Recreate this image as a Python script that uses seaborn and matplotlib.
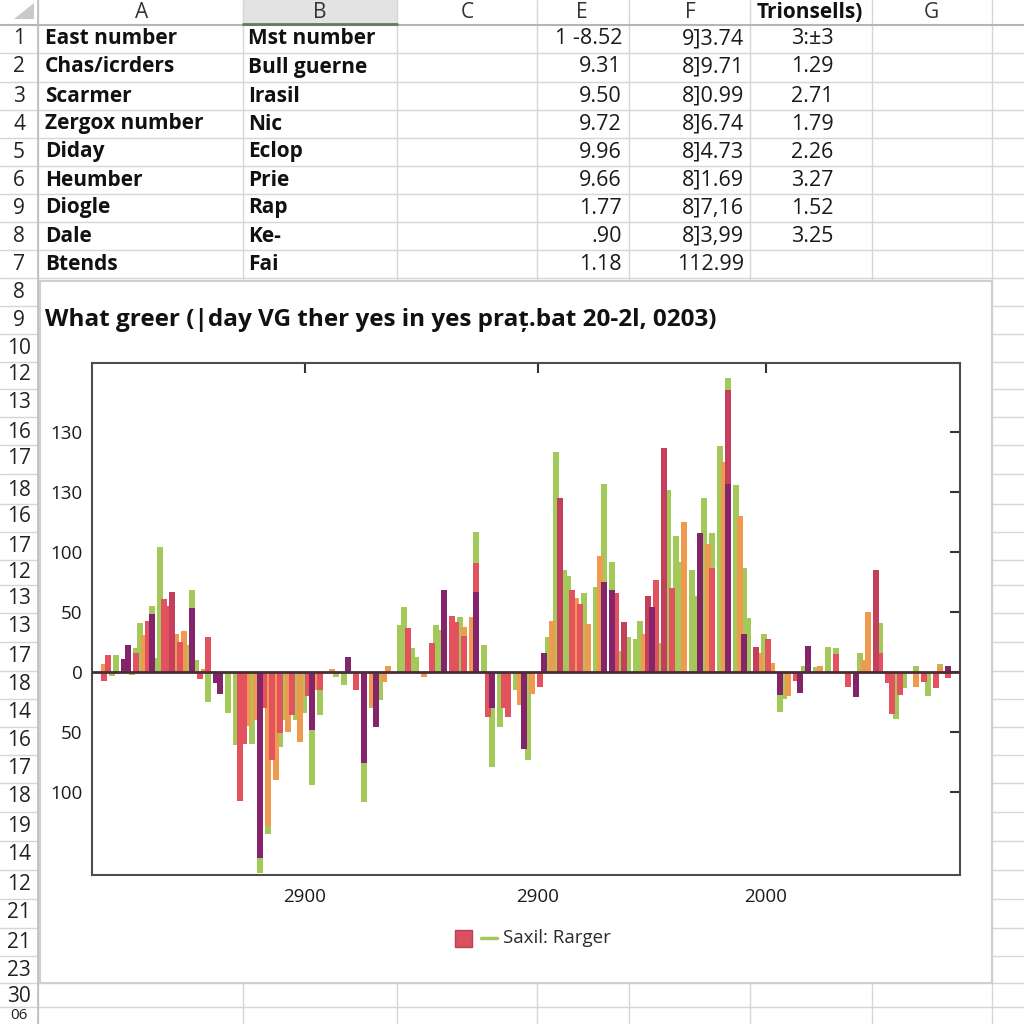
import numpy as np
import pandas as pd
import matplotlib
matplotlib.use("Agg")
import matplotlib.pyplot as plt
import seaborn as sns
from matplotlib.patches import Rectangle, Polygon

sns.set_theme(style="white")
plt.rcParams['font.family'] = ['Open Sans', 'DejaVu Sans']

# ---------------- spreadsheet content ----------------
col_headers = ["A", "B", "C", "E", "F", "Trionsells)", "G"]
col_a = ["East number", "Chas/icrders", "Scarmer", "Zergox number", "Diday",
         "Heumber", "Diogle", "Dale", "Btends"]
col_b = ["Mst number", "Bull guerne", "Irasil", "Nic", "Eclop", "Prie",
         "Rap", "Ke-", "Fai"]
col_e = ["1 -8.52", "9.31", "9.50", "9.72", "9.96", "9.66", "1.77", ".90", "1.18"]
col_f = ["9]3.74", "8]9.71", "8]0.99", "8]6.74", "8]4.73", "8]1.69", "8]7,16",
         "8]3,99", "112.99"]
col_t = ["3:±3", "1.29", "2.71", "1.79", "2.26", "3.27", "1.52", "3.25", ""]
row_nums_top = ["1", "2", "3", "4", "5", "6", "9", "8", "7"]
row_nums_low = ["8", "9", "10", "12", "13", "16", "17", "18", "16", "17", "12",
                "13", "13", "17", "18", "14", "16", "17", "18", "19", "14", "12",
                "21", "21", "23", "30", "06"]

chart_title = "What greer (|day VG ther yes in yes praț.bat 20-2l, 0203)"
legend_label = "Saxil: Rarger"

# ---------------- chart data ----------------
green_x = [5, 6, 10, 11, 12, 15, 16, 17, 22, 24, 25, 26, 29, 34, 36, 40, 42, 44, 47, 48,
           51, 53, 55, 57, 61, 63, 68, 70, 72, 77, 78, 80, 81, 86, 87, 92, 96, 98, 100, 102,
           106, 109, 114, 116, 118, 119, 123, 126, 128, 130, 132, 134, 136, 137, 142,
           144, 146, 147, 150, 151, 153, 155, 157, 159, 161, 163, 164, 168, 172, 173,
           178, 181, 184, 186, 192, 197, 201, 203, 206, 209, 212]
green_y = [-3, 14, -2, 20, 41, 55, 12, 104, 15, 23, 68, 10, -25, -34, -61, -60, -167, -135,
           -62, -40, -40, -34, -94, -36, -4, -11, -108, -30, -23, 39, 54, 20, 13, 39, 35, 46,
           117, 23, -79, -46, -15, -73, 29, 183, 85, 80, 66, 71, 157, 92, 18, 29, 28, 43,
           24, 152, 113, 92, 85, 63, 145, 116, 188, 245, 156, 87, 45, 32, -33, -22, 5, 4,
           21, 20, 16, 41, -39, -13, 5, -20, 7]

orange_x = [3, 13, 21, 23, 28, 39, 41, 44, 46, 49, 52, 56, 60, 70, 73, 74, 79, 83, 93, 95,
            107, 110, 115, 121, 124, 127, 138, 148, 154, 158, 162, 167, 170, 174, 182, 193,
            194, 206, 212]
orange_y = [7, 31, 32, 34, 3, -45, -40, -128, -90, -50, -58, -15, 3, -28, -8, 5, 15, -4,
            38, 46, -27, -18, 43, 62, 40, 97, 32, 125, 107, 175, 130, 16, 8, -20, 5, 10, 50,
            -12, 5]

red_x = [3, 4, 11, 14, 18, 19, 22, 27, 29, 37, 38, 43, 45, 47, 50, 54, 57, 66, 79, 85, 90,
         91, 93, 96, 99, 103, 104, 112, 120, 122, 131, 141, 145, 155, 169, 176, 186, 189,
         197, 199, 200, 202, 208, 211, 214]
red_y = [-7, 14, 16, 43, 61, 55, 25, -6, 29, -107, -60, -30, -73, -51, -36, -20, -15, -15,
         37, 24, 47, 42, 30, 91, -37, -30, -37, -12, 68, 57, 66, 77, 70, 87, 28, -7, 15,
         -12, 16, -9, -35, -19, -8, -13, -5]

crimson_x = [20, 117, 133, 139, 143, 159, 166, 196]
crimson_y = [67, 145, 42, 63, 187, 235, 21, 85]

purple_x = [8, 9, 15, 25, 31, 32, 42, 55, 64, 68, 71, 88, 96, 100, 108, 113, 128, 130,
            140, 152, 159, 163, 172, 177, 179, 191, 214]
purple_y = [11, 23, 48, 53, -9, -18, -155, -48, 13, -76, -46, 68, 67, -30, -64, 16, 75,
            68, 54, 116, 157, 32, -19, -17, 22, -21, 5]

series_names = ["green", "orange", "red", "crimson", "purple"]
series_colors = ["#a3c95b", "#ef9a4e", "#e5525f", "#c43f5c", "#84256b"]

x_ticks = [53.25, 111.5, 168.5]
x_tick_labels = ["2900", "2900", "2000"]
y_ticks = [200, 150, 100, 50, 0, -50, -100]
y_tick_labels = ["130", "130", "100", "50", "0", "50", "100"]

# ---------------- figure ----------------
fig = plt.figure(figsize=(10.24, 10.24), dpi=100)
fig.patch.set_facecolor("white")

bg = fig.add_axes([0, 0, 1, 1])
bg.set_xlim(0, 1024)
bg.set_ylim(1024, 0)
bg.axis("off")

grid_c = "#d6d6d6"
col_edges = [38, 243, 397, 537, 629, 750, 872, 992]
top_rows = [25, 53, 82, 110, 138, 166, 194, 222, 250, 278]
low_centers = [292, 320, 348, 375, 402, 432, 458, 490, 517, 547, 572, 598, 627, 656,
               685, 713, 741, 769, 797, 826, 855, 885, 913, 942, 970, 996, 1018]
low_edges = [(a + b) / 2 for a, b in zip(low_centers[:-1], low_centers[1:])]

# header B highlight
bg.add_patch(Rectangle((243, 0), 154, 25, fc="#e3e3e3", ec="none", zorder=0))
bg.plot([243, 397], [24, 24], color="#5d7d62", lw=2, zorder=1)
# corner triangle
bg.add_patch(Polygon([[14, 19], [34, 3], [34, 19]], closed=True, fc="#c9c9c9", ec="none"))

for x in col_edges:
    bg.plot([x, x], [0, 1024], color=grid_c, lw=1, zorder=0.5)
for y in top_rows[1:] + low_edges:
    bg.plot([0, 1024], [y, y], color=grid_c, lw=1, zorder=0.5)
bg.plot([0, 1024], [25, 25], color="#b5b5b5", lw=1.5, zorder=0.6)
bg.plot([38, 38], [0, 1024], color="#bdbdbd", lw=1.2, zorder=0.6)

hdr_x = [142, 320, 467, 582, 690, 810, 931]
for t, x in zip(col_headers, hdr_x):
    bold = t.startswith("Trion")
    bg.text(x, 12, t, ha="center", va="center", fontsize=15,
            color="#111111" if bold else "#333333", fontweight="bold" if bold else "normal")

row_c = [39, 67, 96, 124, 152, 180, 208, 236, 264]
for i, yc in enumerate(row_c):
    bg.text(19, yc, row_nums_top[i], ha="center", va="center", fontsize=15, color="#222222")
    bg.text(45, yc, col_a[i], ha="left", va="center", fontsize=15, fontweight="bold",
            color="#111111")
    bg.text(248, yc, col_b[i], ha="left", va="center", fontsize=15, fontweight="bold",
            color="#111111")
    bg.text(622, yc, col_e[i], ha="right", va="center", fontsize=15.5, color="#1a1a1a")
    bg.text(744, yc, col_f[i], ha="right", va="center", fontsize=15.5, color="#1a1a1a")
    bg.text(812, yc, col_t[i], ha="center", va="center", fontsize=15.5, color="#1a1a1a")

for t, yc in zip(row_nums_low[:-1], low_centers[:-1]):
    bg.text(19, yc, t, ha="center", va="center", fontsize=15, color="#222222")
# last, partly visible row number
bg.text(19, 1023, row_nums_low[-1], ha="center", va="bottom", fontsize=11, color="#222222")

# chart box
bg.add_patch(Rectangle((40, 281), 952, 702, fc="white", ec="#cfcfcf", lw=1.5, zorder=2))
bg.text(45, 320, chart_title, ha="left", va="center", fontsize=17.5, fontweight="bold",
        color="#111111", zorder=3)

# legend (manual)
bg.add_patch(Rectangle((455, 930), 17, 17, fc="#d9505f", ec="#b84050", lw=1, zorder=3))
bg.plot([481, 497], [938, 938], color="#a3c95b", lw=2.5, zorder=3)
bg.text(503, 938, legend_label, ha="left", va="center", fontsize=13.5, color="#2a2a2a",
        zorder=3)

# ---------------- main axes ----------------
ax = fig.add_axes([92 / 1024, (1024 - 875) / 1024, 868 / 1024, 512 / 1024])
ax.set_facecolor("white")

frames = []
for name, xs, ys in [("green", green_x, green_y), ("orange", orange_x, orange_y),
                     ("red", red_x, red_y), ("crimson", crimson_x, crimson_y),
                     ("purple", purple_x, purple_y)]:
    frames.append(pd.DataFrame({"x": xs, "v": ys, "s": name}))
df = pd.concat(frames, ignore_index=True)

sns.barplot(data=df, x="x", y="v", hue="s", hue_order=series_names,
            palette=series_colors, dodge=False, native_scale=True, width=1.7,
            errorbar=None, saturation=1, linewidth=0, legend=False, ax=ax)

ax.axhline(0, color="#4b2d38", lw=2, zorder=5)
ax.set_xlim(0, 217)
ax.set_ylim(-169, 257.5)
ax.set_xticks(x_ticks)
ax.set_xticklabels(x_tick_labels)
ax.set_yticks(y_ticks)
ax.set_yticklabels(y_tick_labels)
ax.set_xlabel("")
ax.set_ylabel("")
ax.tick_params(axis="both", direction="in", length=7, width=1.5, color="#333333",
               top=True, right=True, labelsize=13.5, labelcolor="#1a1a1a")
ax.tick_params(axis="x", pad=9)
ax.tick_params(axis="y", pad=7)
for sp in ax.spines.values():
    sp.set_visible(True)
    sp.set_color("#4d4d4d")
    sp.set_linewidth(1.5)

fig.savefig("out.png", dpi=100)
